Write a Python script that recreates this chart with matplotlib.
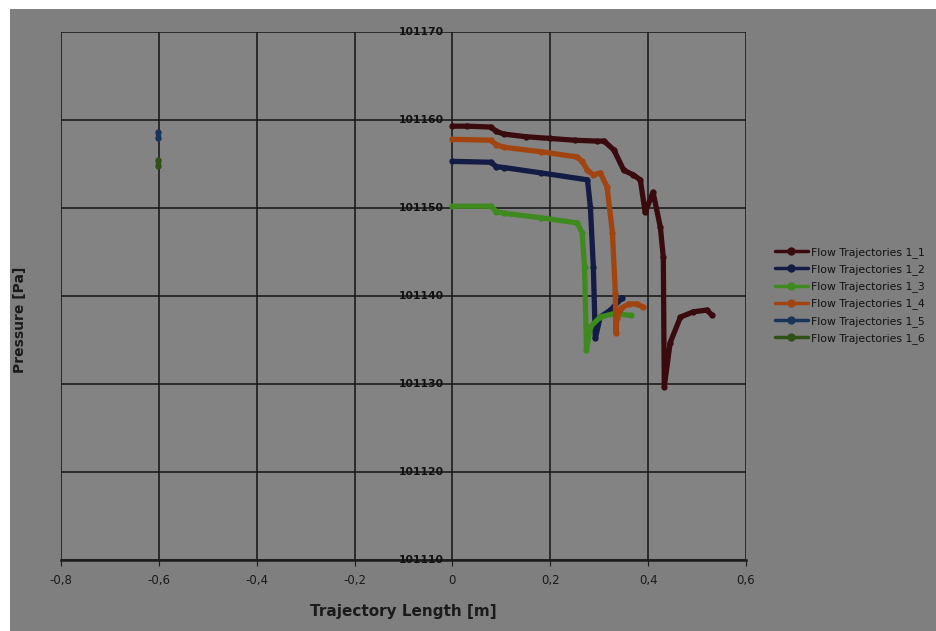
import matplotlib
matplotlib.use("Agg")
import matplotlib.pyplot as plt
from matplotlib.patches import Rectangle
from matplotlib.ticker import FuncFormatter

# ---- data ----
x_1_1 = [0, 0.03, 0.078, 0.09, 0.105, 0.15, 0.2, 0.25, 0.296, 0.31, 0.33, 0.35, 0.37,
         0.384, 0.394, 0.41, 0.425, 0.431, 0.433, 0.445, 0.466, 0.492, 0.52, 0.531]
p_1_1 = [101159.3, 101159.3, 101159.2, 101158.7, 101158.4, 101158.1, 101157.9, 101157.7,
         101157.6, 101157.6, 101156.6, 101154.3, 101153.75, 101153.2, 101149.5, 101151.8,
         101147.8, 101144.4, 101129.7, 101134.7, 101137.6, 101138.2, 101138.4, 101137.8]

x_1_2 = [0, 0.078, 0.09, 0.105, 0.18, 0.276, 0.282, 0.288, 0.292, 0.302, 0.323, 0.347]
p_1_2 = [101155.3, 101155.2, 101154.7, 101154.6, 101154.0, 101153.2, 101150.1, 101143.3,
         101135.2, 101137.6, 101138.4, 101139.8]

x_1_3 = [0, 0.078, 0.09, 0.105, 0.18, 0.255, 0.265, 0.27, 0.274, 0.282, 0.302, 0.33, 0.364]
p_1_3 = [101150.2, 101150.2, 101149.6, 101149.4, 101148.9, 101148.3, 101147.2, 101143.3,
         101133.9, 101136.5, 101137.6, 101138.0, 101137.8]

x_1_4 = [0, 0.078, 0.09, 0.105, 0.18, 0.255, 0.265, 0.276, 0.288, 0.302, 0.316, 0.327,
         0.333, 0.334, 0.336, 0.345, 0.36, 0.378, 0.39]
p_1_4 = [101157.8, 101157.7, 101157.2, 101156.9, 101156.4, 101155.8, 101155.3, 101154.3,
         101153.75, 101154.0, 101152.4, 101147.2, 101140.3, 101135.8, 101137.5, 101138.6,
         101139.1, 101139.1, 101138.7]

x_1_5 = [-0.601, -0.601]
p_1_5 = [101158.6, 101158.0]

x_1_6 = [-0.601, -0.601]
p_1_6 = [101155.4, 101154.8]

names = ["Flow Trajectories 1_1", "Flow Trajectories 1_2", "Flow Trajectories 1_3",
         "Flow Trajectories 1_4", "Flow Trajectories 1_5", "Flow Trajectories 1_6"]
colors = ["#3a0b0e", "#121c44", "#3e8a1f", "#a2440f", "#18345a", "#2f5016"]

x_ticks = [-0.8, -0.6, -0.4, -0.2, 0, 0.2, 0.4, 0.6]
y_ticks = [101110, 101120, 101130, 101140, 101150, 101160, 101170]

# ---- figure ----
W, H = 936, 631
fig = plt.figure(figsize=(W / 100, H / 100), dpi=100, facecolor="#7f7f7f")
# white margins at left and top
fig.patches.append(Rectangle((0, 0), 10 / W, 1, transform=fig.transFigure,
                             facecolor="white", edgecolor="none", zorder=-5))
fig.patches.append(Rectangle((0, 1 - 9 / H), 1, 9 / H, transform=fig.transFigure,
                             facecolor="white", edgecolor="none", zorder=-5))

ax = fig.add_axes([61 / W, 1 - 560 / H, (746 - 61) / W, (560 - 32) / H], zorder=2)
ax.set_facecolor("#838383")

series = [(x_1_1, p_1_1), (x_1_2, p_1_2), (x_1_3, p_1_3), (x_1_4, p_1_4),
          (x_1_5, p_1_5), (x_1_6, p_1_6)]
for (xs, ps), c, n in zip(series, colors, names):
    ax.plot(xs, ps, color=c, lw=3.8, marker="o", ms=3.5, solid_joinstyle="round",
            solid_capstyle="round", label=n, zorder=3)

ax.set_xlim(-0.8, 0.6)
ax.set_ylim(101110, 101170)
ax.set_xticks(x_ticks)
ax.set_yticks(y_ticks)
ax.xaxis.set_major_formatter(FuncFormatter(lambda v, p: ("%g" % round(v, 2)).replace(".", ",")))
ax.yaxis.set_major_formatter(FuncFormatter(lambda v, p: ""))
ax.grid(True, color="#1c1c1c", lw=1.2, zorder=1)

for s in ["top", "right", "left"]:
    ax.spines[s].set_visible(False)
ax.spines["bottom"].set_color("#1c1c1c")
ax.spines["bottom"].set_linewidth(1.8)

ax.tick_params(axis="x", length=4, color="#1c1c1c", labelsize=8.5, labelcolor="#1a1a1a", pad=6)
ax.tick_params(axis="y", length=0)

# y tick labels sit next to the x=0 axis line
for v in y_ticks:
    ax.text(-0.018, v, "%d" % v, ha="right", va="center", fontsize=7.8, fontweight="bold",
            color="#111111", zorder=4, clip_on=False)

ax.set_xlabel("Trajectory Length [m]", fontsize=11, fontweight="bold", color="#1a1a1a",
              labelpad=12)
fig.text(20 / W, 1 - 320 / H, "Pressure [Pa]", rotation=90, ha="center", va="center",
         fontsize=10, fontweight="bold", color="#1a1a1a")

leg = fig.legend(loc="upper left", bbox_to_anchor=(775 / W, 1 - 247 / H), frameon=False,
                 fontsize=7.8, handlelength=3.0, handletextpad=0.35, labelspacing=0.58,
                 borderaxespad=0, borderpad=0)
for h in leg.legend_handles:
    h.set_linewidth(2.5)
    h.set_markersize(5)
for t in leg.get_texts():
    t.set_color("#111111")

fig.savefig("out.png", dpi=100, facecolor=fig.get_facecolor())
